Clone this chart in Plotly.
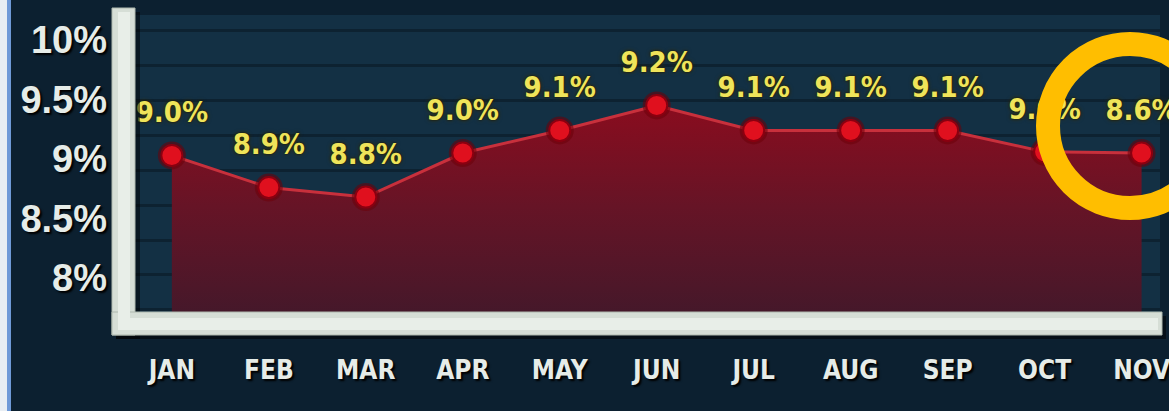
import plotly.graph_objects as go

# ---- data ----
months = ["JAN", "FEB", "MAR", "APR", "MAY", "JUN", "JUL", "AUG", "SEP", "OCT", "NOV"]
# vertical position of each point as drawn against the axis
drawn_level = [9.03, 8.76, 8.68, 9.05, 9.24, 9.45, 9.24, 9.24, 9.24, 9.06, 9.05]
# value printed above each point
printed_rate = [9.0, 8.9, 8.8, 9.0, 9.1, 9.2, 9.1, 9.1, 9.1, 9.0, 8.6]
y_ticks = [8, 8.5, 9, 9.5, 10]
y_tick_text = ["8%", "8.5%", "9%", "9.5%", "10%"]

labels = [f"{v:.1f}%" for v in printed_rate]
xs = list(range(len(months)))

COND = "DejaVu Sans Condensed, Liberation Sans Narrow, Liberation Sans, sans-serif"

fig = go.Figure()

# red filled area with line
fig.add_trace(go.Scatter(
    x=xs, y=drawn_level, mode="lines", fill="tozeroy",
    line=dict(color="#c8303c", width=3),
    fillgradient=dict(type="vertical", start=7.7, stop=9.5,
                      colorscale=[[0, "#45182a"], [0.5, "#661426"], [1, "#8c0c1e"]]),
    hoverinfo="skip", showlegend=False,
))
# glow behind markers
fig.add_trace(go.Scatter(
    x=xs, y=drawn_level, mode="markers",
    marker=dict(size=28, color="rgba(110,0,10,0.55)", line=dict(width=0)),
    hoverinfo="skip", showlegend=False,
))
# markers
fig.add_trace(go.Scatter(
    x=xs, y=drawn_level, mode="markers",
    marker=dict(size=21, color="#e0101e", line=dict(color="#8a0010", width=2)),
    hoverinfo="skip", showlegend=False,
))
# value labels (invisible large marker keeps the text lifted above the point)
fig.add_trace(go.Scatter(
    x=xs, y=drawn_level, mode="markers+text", text=labels, textposition="top center",
    marker=dict(size=40, color="rgba(0,0,0,0)", line=dict(width=0)),
    textfont=dict(family=COND, size=29, color="#efe45a", weight="bold",
                  shadow="0px 0px 4px #3a3000, 0px 0px 2px #000"),
    hoverinfo="skip", showlegend=False, cliponaxis=False,
))

L, R, T, B = 135, 9, 15, 99
W, H = 1169, 411
pw, ph = W - L - R, H - T - B


def px(xp):
    return (xp - L) / pw


def py(yp):
    return (H - B - yp) / ph


shapes = [
    # left page edge
    dict(type="rect", xref="paper", yref="paper", x0=px(0), x1=px(7), y0=py(411), y1=py(0),
         fillcolor="#e8eef4", line=dict(width=0), layer="below"),
    dict(type="rect", xref="paper", yref="paper", x0=px(7), x1=px(11), y0=py(411), y1=py(0),
         fillcolor="#6f9ad8", line=dict(width=0), layer="below"),
    # frame: shadow
    dict(type="rect", xref="paper", yref="paper", x0=px(116), x1=px(140), y0=py(339), y1=py(12),
         fillcolor="rgba(0,0,0,0.5)", line=dict(width=0)),
    dict(type="rect", xref="paper", yref="paper", x0=px(116), x1=px(1166), y0=py(339), y1=py(316),
         fillcolor="rgba(0,0,0,0.5)", line=dict(width=0)),
    # frame bars
    dict(type="rect", xref="paper", yref="paper", x0=px(112), x1=px(135), y0=py(335), y1=py(8),
         fillcolor="#d6ded6", line=dict(color="#aeb8ae", width=1)),
    dict(type="rect", xref="paper", yref="paper", x0=px(112), x1=px(1162), y0=py(335), y1=py(312),
         fillcolor="#d6ded6", line=dict(color="#aeb8ae", width=1)),
    dict(type="rect", xref="paper", yref="paper", x0=px(118), x1=px(130), y0=py(325), y1=py(12),
         fillcolor="#e8eee8", line=dict(width=0)),
    dict(type="rect", xref="paper", yref="paper", x0=px(118), x1=px(1158), y0=py(330), y1=py(318),
         fillcolor="#e8eee8", line=dict(width=0)),
    # highlight ring
    dict(type="circle", xref="paper", yref="paper",
         x0=px(1048), x1=px(1212), y0=py(208), y1=py(44),
         line=dict(color="#ffbe00", width=24), fillcolor="rgba(0,0,0,0)"),
]

fig.update_layout(
    width=W, height=H,
    margin=dict(l=L, r=R, t=T, b=B, autoexpand=False),
    paper_bgcolor="#0c2030",
    plot_bgcolor="#133044",
    shapes=shapes,
    showlegend=False,
    xaxis=dict(
        range=[-0.38, 10.19], tickmode="array", tickvals=xs, ticktext=months,
        showgrid=False, zeroline=False, showline=False, ticks="",
        ticklabelstandoff=40, ticklabeloverflow="allow", automargin=False,
        tickfont=dict(family=COND, size=26, color="#e6ece8", weight="bold",
                      shadow="2px 2px 2px #000"),
    ),
    yaxis=dict(
        range=[7.714, 10.21], tickmode="array", tickvals=y_ticks, ticktext=y_tick_text,
        showgrid=False, zeroline=False, showline=False, ticks="",
        ticklabelstandoff=27, automargin=False,
        tickfont=dict(family="Liberation Sans, Arial, sans-serif", size=38,
                      color="#e6ece8", weight="bold", shadow="2px 2px 2px #000"),
        minor=dict(showgrid=True, tick0=8.025, dtick=0.294,
                   gridcolor="rgba(0,0,0,0.28)", gridwidth=3),
    ),
)

fig.write_html("out.html", config={"displayModeBar": False},
               post_script="document.body.style.margin='0';")
